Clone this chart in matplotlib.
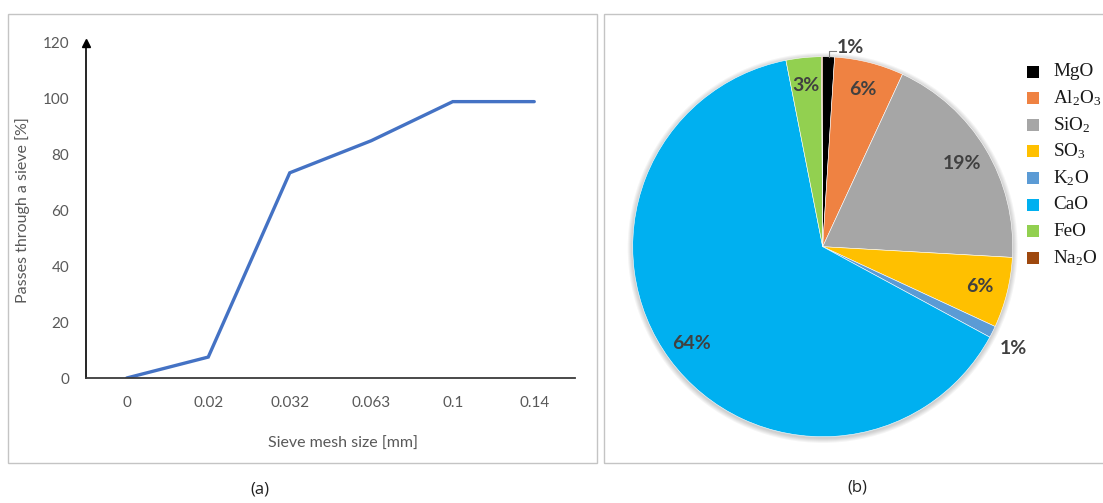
import matplotlib
matplotlib.use("Agg")
import matplotlib.pyplot as plt
from matplotlib.patches import Rectangle, Circle
import numpy as np

# ---------------- data ----------------
sieve_sizes = ["0", "0.02", "0.032", "0.063", "0.1", "0.14"]
passing_pct = [0, 7.5, 73.5, 85, 99, 99]
y_ticks = [0, 20, 40, 60, 80, 100, 120]

oxides = ["MgO", "Al$_2$O$_3$", "SiO$_2$", "SO$_3$", "K$_2$O", "CaO", "FeO", "Na$_2$O"]
oxide_pct = [1.0, 5.9, 19.0, 6.0, 1.0, 64.0, 3.0, 0.1]
oxide_labels = ["1%", "6%", "19%", "6%", "1%", "64%", "3%", ""]
oxide_colors = ["#000000", "#EF8242", "#A6A6A6", "#FFC000", "#5B9BD5", "#00B0F0", "#92D050", "#9E480E"]

plt.rcParams['mathtext.default'] = 'regular'

W, H = 1103, 503
fig = plt.figure(figsize=(W / 100, H / 100), dpi=100)
fig.patch.set_facecolor("white")

def fx(px):
    return px / W

def fy(py):
    return 1 - py / H

# panel frames
fig.add_artist(Rectangle((fx(8), fy(463)), fx(597) - fx(8), fy(14) - fy(463),
                         transform=fig.transFigure, fill=False, edgecolor="#c4c4c4", lw=1.0))
fig.add_artist(Rectangle((fx(604), fy(463)), fx(1115) - fx(604), fy(14) - fy(463),
                         transform=fig.transFigure, fill=False, edgecolor="#c4c4c4", lw=1.0))

# ---------------- left: sieve curve ----------------
grey = "#595959"
ax = fig.add_axes([fx(86), fy(378), fx(575) - fx(86), fy(43) - fy(378)])
x = np.arange(len(sieve_sizes))
ax.plot(x, passing_pct, color="#4472C4", lw=2.4, solid_capstyle="round", solid_joinstyle="miter")
ax.set_xlim(-0.5, len(sieve_sizes) - 0.5)
ax.set_ylim(0, 120)
ax.set_xticks(x)
ax.set_xticklabels(sieve_sizes)
ax.set_yticks(y_ticks)
for s in ["top", "right"]:
    ax.spines[s].set_visible(False)
ax.spines["left"].set_color("black")
ax.spines["left"].set_linewidth(1.2)
ax.spines["bottom"].set_color("#3a3a3a")
ax.spines["bottom"].set_linewidth(1.3)
ax.tick_params(axis="both", length=0, colors=grey, labelsize=11)
ax.tick_params(axis="y", pad=12)
ax.tick_params(axis="x", pad=13)
for lab in ax.get_xticklabels() + ax.get_yticklabels():
    lab.set_fontfamily("Lato")
ax.plot([0], [1.0], marker="^", color="black", markersize=6, transform=ax.transAxes, clip_on=False)
ax.set_xlabel("Sieve mesh size [mm]", color=grey, fontsize=11.5, family="Lato", labelpad=14)
ax.set_ylabel("Passes through a sieve [%]", color=grey, fontsize=11.5, family="Lato", labelpad=14)
ax.xaxis.set_label_coords((343 - 86) / (575 - 86), -(437 - 378) / (378 - 43))
ax.yaxis.set_label_coords(-(86 - 30) / (575 - 86), (378 - 210) / (378 - 43))

# ---------------- right: pie ----------------
cx, cy = 822.7, 246.7
side = 400
pax = fig.add_axes([fx(cx - side / 2), fy(cy + side / 2), side / W, side / H])
R = 0.95
wedges, _ = pax.pie(oxide_pct, colors=oxide_colors, startangle=90, counterclock=False,
                    radius=R, wedgeprops=dict(edgecolor="white", linewidth=0.4))
pax.set_xlim(-1, 1)
pax.set_ylim(-1, 1)
pax.set_aspect("equal")
pax.axis("off")
# soft shadow
for i in range(5):
    pax.add_patch(Circle((0.0, -0.006), R + 0.005 * (i + 1), color="black", alpha=0.04, lw=0, zorder=0))
for w in wedges:
    w.set_zorder(2)

lab_color = "#404040"
for w, lab in zip(wedges, oxide_labels):
    if not lab:
        continue
    ang = np.deg2rad((w.theta1 + w.theta2) / 2)
    frac = (w.theta2 - w.theta1) / 360
    if frac < 0.02:
        continue
    r = 0.855 * R
    pax.text(r * np.cos(ang), r * np.sin(ang), lab, ha="center", va="center",
             fontsize=14, fontweight="bold", color=lab_color, family="Lato", zorder=5)

# small-slice labels (MgO, K2O)
w_mg = wedges[0]
ang = np.deg2rad((w_mg.theta1 + w_mg.theta2) / 2)
px0, py0 = R * np.cos(ang), R * np.sin(ang)
pax.plot([px0, px0, px0 + 0.035], [py0, py0 + 0.03, py0 + 0.03], color="#7f7f7f", lw=0.8, zorder=5)
pax.text(px0 + 0.04, py0 + 0.045, oxide_labels[0], ha="left", va="center", fontsize=14,
         fontweight="bold", color=lab_color, family="Lato", zorder=5)

w_k = wedges[4]
ang = np.deg2rad((w_k.theta1 + w_k.theta2) / 2)
r = 1.12 * R
pax.text(r * np.cos(ang), r * np.sin(ang) - 0.03, oxide_labels[4], ha="center", va="center", fontsize=14,
         fontweight="bold", color=lab_color, family="Lato", zorder=5)

# legend (manual)
leg_y0 = 71.5
leg_dy = 26.6
for i, (name, col) in enumerate(zip(oxides, oxide_colors)):
    yy = leg_y0 + i * leg_dy
    fig.add_artist(Rectangle((fx(1027), fy(yy + 6)), 12 / W, 12 / H, transform=fig.transFigure,
                             facecolor=col, edgecolor="none"))
    fig.text(fx(1053), fy(yy), name, ha="left", va="center", fontsize=13.8,
             family="Liberation Serif", color="#1a1a1a")

# captions
fig.text(fx(260), fy(490), "(a)", ha="center", va="center", fontsize=12, family="Open Sans", color="#222222")
fig.text(fx(857), fy(487), "(b)", ha="center", va="center", fontsize=12, family="Open Sans", color="#222222")

fig.savefig("out.png", dpi=100)
